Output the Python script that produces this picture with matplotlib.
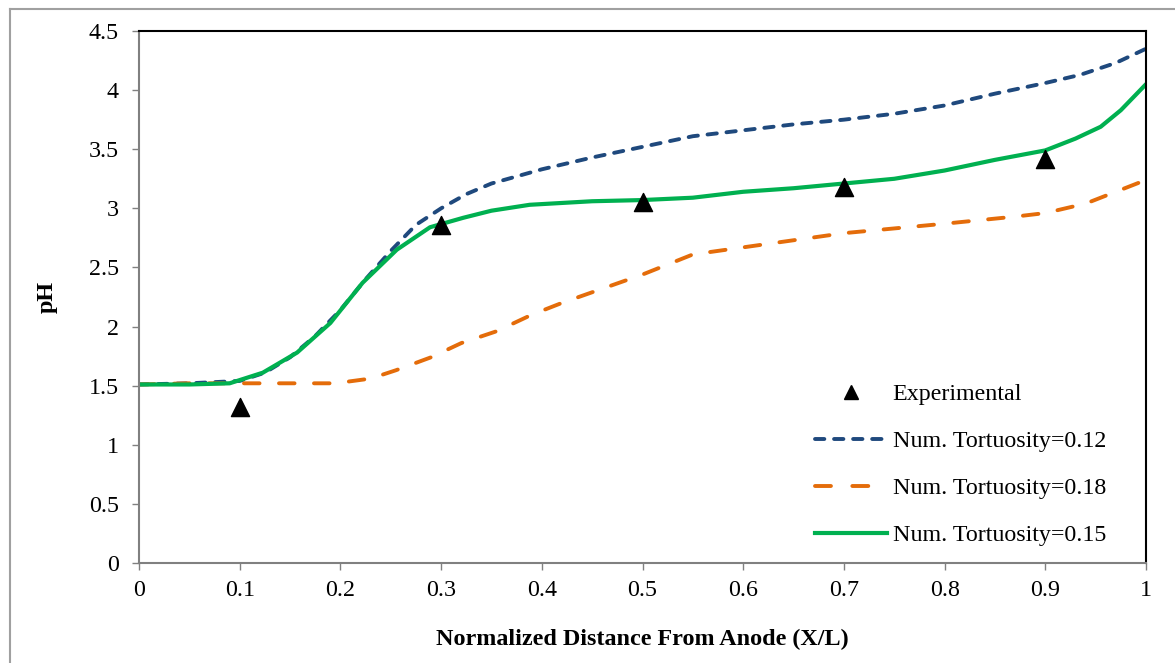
import matplotlib
matplotlib.use("Agg")
import matplotlib.pyplot as plt
from matplotlib.lines import Line2D

# ---- data ----
exp_x = [0.1, 0.3, 0.5, 0.7, 0.9]
exp_y = [1.32, 2.86, 3.05, 3.18, 3.42]

t12_x = [0.0, 0.05, 0.1, 0.125, 0.15, 0.175, 0.2, 0.225, 0.25, 0.275, 0.3, 0.325, 0.35, 0.4, 0.45,
         0.5, 0.55, 0.6, 0.65, 0.7, 0.75, 0.8, 0.85, 0.9, 0.935, 0.97, 1.0]
t12_y = [1.51, 1.52, 1.54, 1.61, 1.74, 1.92, 2.14, 2.40, 2.64, 2.86, 3.00, 3.12, 3.21, 3.33, 3.43,
         3.52, 3.61, 3.66, 3.71, 3.75, 3.80, 3.87, 3.97, 4.06, 4.13, 4.23, 4.35]

t18_x = [0.0, 0.05, 0.1, 0.15, 0.195, 0.23, 0.255, 0.29, 0.32, 0.355, 0.39, 0.42, 0.45, 0.5,
         0.55, 0.6, 0.7, 0.8, 0.87, 0.9, 0.94, 0.97, 1.0]
t18_y = [1.51, 1.52, 1.52, 1.52, 1.52, 1.56, 1.63, 1.74, 1.86, 1.96, 2.10, 2.20, 2.29, 2.44,
         2.61, 2.67, 2.79, 2.87, 2.93, 2.96, 3.04, 3.14, 3.24]

t15_x = [0.0, 0.05, 0.09, 0.123, 0.157, 0.19, 0.222, 0.256, 0.289, 0.322, 0.35, 0.388, 0.45,
         0.5, 0.55, 0.6, 0.65, 0.7, 0.75, 0.8, 0.85, 0.9, 0.93, 0.955, 0.975, 1.0]
t15_y = [1.51, 1.51, 1.52, 1.61, 1.78, 2.03, 2.37, 2.65, 2.84, 2.92, 2.98, 3.03, 3.06,
         3.07, 3.09, 3.14, 3.17, 3.21, 3.25, 3.32, 3.41, 3.49, 3.59, 3.69, 3.83, 4.05]

labels = ["Experimental", "Num. Tortuosity=0.12", "Num. Tortuosity=0.18", "Num. Tortuosity=0.15"]
x_ticks = [0, 0.1, 0.2, 0.3, 0.4, 0.5, 0.6, 0.7, 0.8, 0.9, 1]
x_tick_labels = ["0", "0.1", "0.2", "0.3", "0.4", "0.5", "0.6", "0.7", "0.8", "0.9", "1"]
y_ticks = [0, 0.5, 1, 1.5, 2, 2.5, 3, 3.5, 4, 4.5]
y_tick_labels = ["0", "0.5", "1", "1.5", "2", "2.5", "3", "3.5", "4", "4.5"]

plt.rcParams['font.family'] = ['Liberation Serif', 'DejaVu Serif']

W, H = 1175, 663
fig = plt.figure(figsize=(W / 100, H / 100), dpi=100)
ax = fig.add_axes([139 / W, 1 - 563 / H, (1146 - 139) / W, (563 - 31) / H])

blue = '#1F497D'
orange = '#E46C0A'
green = '#00B050'

l12, = ax.plot(t12_x, t12_y, color=blue, lw=2.8, dashes=(2.4, 2.5), dash_capstyle='round')
l18, = ax.plot(t18_x, t18_y, color=orange, lw=2.8, dashes=(4.0, 5.0), dash_capstyle='round')
l15, = ax.plot(t15_x, t15_y, color=green, lw=3.0, solid_capstyle='round')
le = ax.scatter(exp_x, exp_y, marker='^', s=170, color='black', zorder=5)

ax.set_xlim(0, 1)
ax.set_ylim(0, 4.5)
ax.set_xticks(x_ticks)
ax.set_xticklabels(x_tick_labels)
ax.set_yticks(y_ticks)
ax.set_yticklabels(y_tick_labels)
ax.tick_params(axis='both', labelsize=17.3, colors='#808080', labelcolor='black', length=5, width=1)
ax.tick_params(axis='x', pad=7)
ax.tick_params(axis='y', pad=9.5)

for s in ['left', 'bottom']:
    ax.spines[s].set_color('#808080')
    ax.spines[s].set_linewidth(1.5)
for s in ['top', 'right']:
    ax.spines[s].set_color('black')
    ax.spines[s].set_linewidth(1.5)

ax.set_ylabel('pH', fontsize=17.4, fontweight='bold', labelpad=22)
ax.set_xlabel('Normalized Distance From Anode (X/L)', fontsize=17.4, fontweight='bold', labelpad=20.5)

handles = [Line2D([], [], marker='^', color='black', linestyle='None', markersize=10),
           Line2D([], [], color=blue, lw=2.8, dashes=(2.4, 2.5), dash_capstyle='round'),
           Line2D([], [], color=orange, lw=2.8, dashes=(4.1, 5.5), dash_capstyle='round'),
           Line2D([], [], color=green, lw=3.0)]
ax.legend(handles, labels, loc='lower right', bbox_to_anchor=(0.977, 0.0), frameon=False,
          fontsize=17.3, handlelength=3.0, handletextpad=0.25, labelspacing=1.05, borderaxespad=0.3)

# outer figure frame (top and left visible)
fig.add_artist(Line2D([10 / W, 1.0], [1 - 9 / H, 1 - 9 / H], color='#A0A0A0', lw=1.5, transform=fig.transFigure))
fig.add_artist(Line2D([10 / W, 10 / W], [0.0, 1 - 9 / H], color='#A0A0A0', lw=1.5, transform=fig.transFigure))

fig.savefig('out.png', dpi=100)
